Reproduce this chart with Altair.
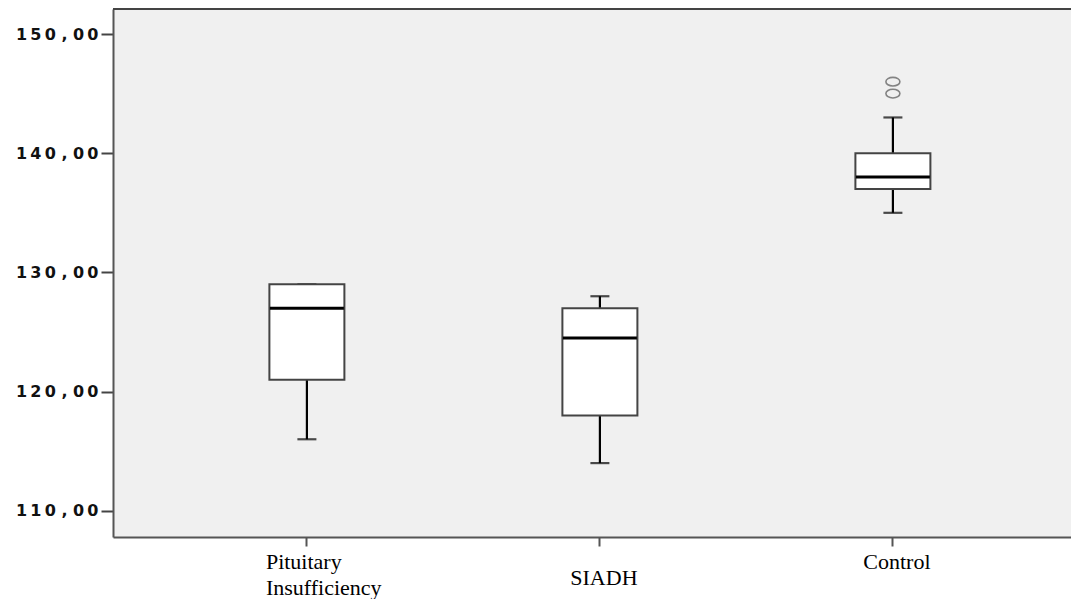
import altair as alt
import pandas as pd

groups = ["Pituitary Insufficiency", "SIADH", "Control"]
lower = [116, 114, 135]
q1 = [121, 118, 137]
median = [127, 124.5, 138]
q3 = [129, 127, 140]
upper = [129, 128, 143]

outlier_group = ["Control", "Control"]
outlier_value = [145, 146]

y_ticks = [110, 120, 130, 140, 150]

stats = pd.DataFrame({"group": groups, "lower": lower, "q1": q1, "median": median,
                      "q3": q3, "upper": upper})
outl = pd.DataFrame({"group": outlier_group, "value": outlier_value})

W, H = 958, 528

x_axis = alt.Axis(
    title=None, domainColor="#555", domainWidth=2, tickColor="#555", tickWidth=2, tickSize=9,
    labelFont="Liberation Serif", labelFontSize=22, labelColor="#000", labelAngle=0,
    labelLineHeight=26, labelBaseline="alphabetic",
    labelExpr="datum.value == 'Pituitary Insufficiency' ? ['Pituitary', 'Insufficiency'] : datum.value",
    labelAlign={"condition": {"test": "datum.value == 'Pituitary Insufficiency'", "value": "left"}, "value": "center"},
    labelOffset={"condition": {"test": "datum.value == 'Pituitary Insufficiency'", "value": -41}, "value": 4},
    labelPadding={"condition": {"test": "datum.value == 'SIADH'", "value": 38},
                  "value": 22},
)
x = alt.X("group:N", sort=groups, title=None,
          scale=alt.Scale(paddingInner=0, paddingOuter=0.1348, align=0.6), axis=x_axis)

y_scale = alt.Scale(domain=[107.8, 152.1], nice=False, zero=False)
y_axis = alt.Axis(
    title=None, values=y_ticks, grid=False, domainColor="#555", domainWidth=2,
    tickColor="#444", tickWidth=2, tickSize=12, labelPadding=3,
    labelFont="DejaVu Sans", labelFontWeight="bold", labelFontSize=16, labelColor="#111",
    labelExpr="replace(join(split(replace(format(datum.value, '.2f'), '.', ','), ''), '\u2009'), '\u2009,\u2009', ' , ')",
)

base = alt.Chart(stats)

whisk_lo = base.mark_rule(color="#000", strokeWidth=2.2).encode(
    x=x, y=alt.Y("lower:Q", scale=y_scale, axis=y_axis), y2="q1:Q")
whisk_hi = base.mark_rule(color="#000", strokeWidth=2.2).encode(
    x=x, y=alt.Y("q3:Q", scale=y_scale, axis=y_axis), y2="upper:Q")
cap_lo = base.mark_tick(color="#000", size=19, thickness=2.2).encode(
    x=x, y=alt.Y("lower:Q", scale=y_scale, axis=y_axis))
cap_hi = base.mark_tick(color="#000", size=19, thickness=2.2).encode(
    x=x, y=alt.Y("upper:Q", scale=y_scale, axis=y_axis))
box = base.mark_bar(size=75, fill="#ffffff", stroke="#444", strokeWidth=2).encode(
    x=x, y=alt.Y("q1:Q", scale=y_scale, axis=y_axis), y2="q3:Q")
med = base.mark_tick(color="#000", size=74, thickness=3, opacity=1).encode(
    x=x, y=alt.Y("median:Q", scale=y_scale, axis=y_axis))
pts = alt.Chart(outl).mark_point(
    shape="M-1,0A1,0.62,0,1,0,1,0A1,0.62,0,1,0,-1,0Z", size=196, filled=False,
    stroke="#555", strokeWidth=1.6).encode(
    x=x, y=alt.Y("value:Q", scale=y_scale, axis=y_axis))
top = alt.Chart(pd.DataFrame({"a": [0]})).mark_rule(color="#444", strokeWidth=2).encode(
    x=alt.value(0), x2=alt.value(W), y=alt.value(0))

chart = alt.layer(whisk_lo, whisk_hi, cap_lo, cap_hi, box, med, pts, top).properties(
    width=W, height=H, autosize="none",
    padding={"left": 105, "top": 1, "right": 0, "bottom": 62},
    background="#ffffff",
).configure_view(fill="#f0f0f0", stroke="transparent")

chart.save("out.html", embed_options={"renderer": "svg", "actions": False})
